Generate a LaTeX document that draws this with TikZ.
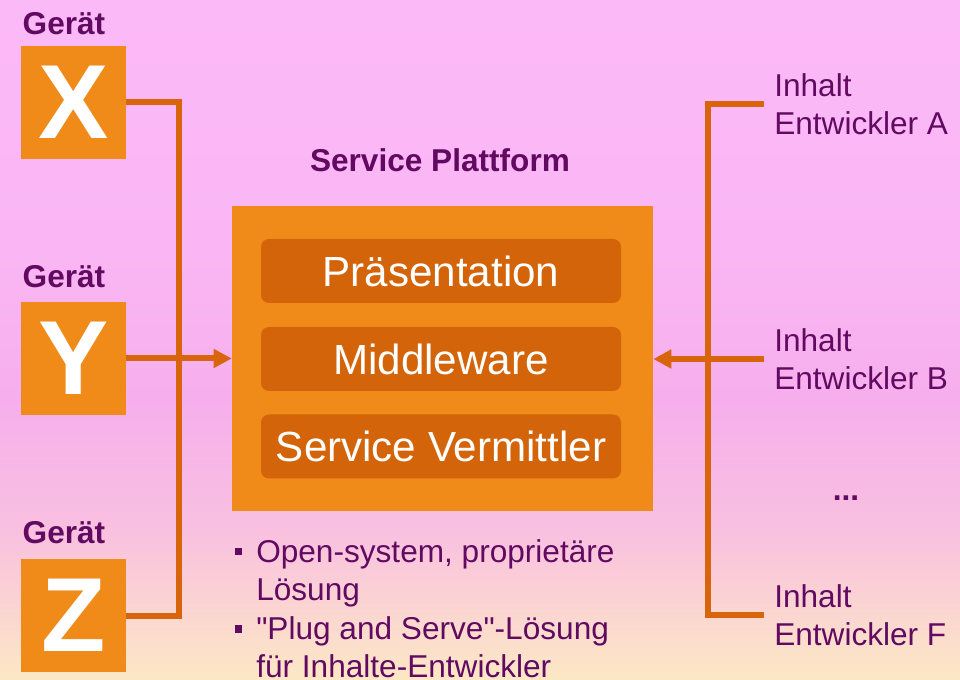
\documentclass[tikz,border=0pt]{standalone}
\usepackage{fontspec}
\setmainfont{Liberation Sans}[Ligatures=TeXOff]
\usetikzlibrary{arrows.meta}
\definecolor{txtpurple}{HTML}{620A62}
\definecolor{boxorange}{HTML}{F08A18}
\definecolor{innerorange}{HTML}{D3640A}
\definecolor{lineorange}{HTML}{D8640C}
\definecolor{bgA}{HTML}{FCB9F8}
\definecolor{bgB}{HTML}{FAB6F4}
\definecolor{bgC}{HTML}{F6AFEC}
\definecolor{bgD}{HTML}{F9C0E0}
\definecolor{bgE}{HTML}{FBD8D0}
\definecolor{bgF}{HTML}{FCE8C4}
\pgfdeclareverticalshading{skybg}{100bp}{color(0bp)=(bgF); color(25bp)=(bgF); color(29.4bp)=(bgE); color(36bp)=(bgD); color(45.6bp)=(bgC); color(56.6bp)=(bgB); color(75bp)=(bgA); color(100bp)=(bgA)}
\tikzset{
  devbox/.style={fill=boxorange, minimum width=78.75pt, minimum height=84.75pt, inner sep=0pt,
     text=white, font=\fontsize{79pt}{79pt}\selectfont\bfseries},
  devlabel/.style={anchor=base, text=txtpurple, inner sep=0pt, font=\fontsize{23.7pt}{28.5pt}\selectfont\bfseries},
  layer/.style={fill=innerorange, rounded corners=6pt, minimum width=270pt, minimum height=48pt,
     inner sep=0pt, text=white, font=\fontsize{31.6pt}{36pt}\selectfont},
  conn/.style={draw=lineorange, line width=4.5pt},
  arr/.style={conn, -{Triangle[length=13.5pt,width=13.5pt]}},
  devtext/.style={anchor=west, align=left, text=txtpurple, inner xsep=7.5pt, inner ysep=0pt,
     font=\fontsize{23.7pt}{28.5pt}\selectfont},
  bullettext/.style={anchor=north west, align=left, text=txtpurple, inner sep=0pt,
     font=\fontsize{23.7pt}{28.5pt}\selectfont},
  bulletsq/.style={fill=txtpurple, minimum size=5.5pt, inner sep=0pt},
}
\begin{document}
\begin{tikzpicture}[x=0.75pt,y=-0.75pt]
\useasboundingbox (0,0) rectangle (960,680);
\shade[shading=skybg] (0,0) rectangle (960,680);

% devices
\node[devlabel] (gx) at (64,35) {Gerät};
\node[devbox] (X) at (73.5,102.5) {X};
\node[devlabel] (gy) at (64,288) {Gerät};
\node[devbox] (Y) at (73.5,358.5) {Y};
\node[devlabel] (gz) at (64,543) {Gerät};
\node[devbox] (Z) at (73.5,615.5) {Z};

% platform
\node[text=txtpurple, inner sep=0pt, anchor=base, font=\fontsize{23.7pt}{28.5pt}\selectfont\bfseries] (title) at (440,172) {Service Plattform};
\node[fill=boxorange, minimum width=315.75pt, minimum height=228.75pt, inner sep=0pt] (plat) at (442.5,358.5) {};
\node[layer] (pres) at (441,271) {Präsentation};
\node[layer] (mid) at (441,359) {Middleware};
\node[layer] (serv) at (441,446.5) {Service Vermittler};

% left bus
\coordinate (lbus) at (179,0);
\draw[conn] (X.east) -| (lbus |- Z.east) -- (Z.east);
\draw[conn] (lbus |- X.east) -- (lbus |- Y.east);
\draw[arr] (Y.east) -- (Y.east -| plat.west);

% right side
\node[devtext] (ia) at (764,104) {Inhalt\\Entwickler A};
\node[devtext] (ib) at (764,359) {Inhalt\\Entwickler B};
\node[devtext] (if) at (764,615) {Inhalt\\Entwickler F};
\node[text=txtpurple, inner sep=0pt, anchor=base, font=\fontsize{23.7pt}{28.5pt}\selectfont\bfseries] (dots) at (846,500) {...};
\coordinate (rbus) at (708,0);
\draw[conn] (ia.west) -| (rbus |- if.west) -- (if.west);
\draw[arr] (ib.west) -- (ib.west -| plat.east);

% bullets
\node[bulletsq] (b1) at (238.5,551.5) {};
\node[bullettext] (t1) at (256,539) {Open-system, proprietäre\\Lösung};
\node[bulletsq] (b2) at (238.5,629) {};
\node[bullettext] (t2) at (256,616.5) {"Plug and Serve"-Lösung\\für Inhalte-Entwickler};
\end{tikzpicture}
\end{document}
